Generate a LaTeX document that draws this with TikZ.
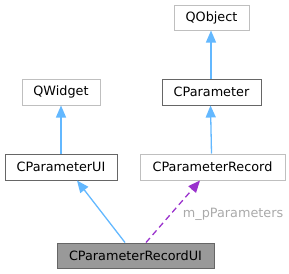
\documentclass[tikz,border=0pt]{standalone}
\usepackage{fontspec}
\setmainfont{DejaVu Sans}
\definecolor{inheritblue}{RGB}{99, 184, 255}
\definecolor{usagepurple}{RGB}{154, 50, 205}
\definecolor{extgray}{RGB}{191, 191, 191}
\definecolor{docgray}{RGB}{102, 102, 102}
\definecolor{mainfill}{RGB}{153, 153, 153}
\definecolor{labelgray}{RGB}{170, 170, 170}
\usetikzlibrary{
    arrows.meta,
    positioning,
    calc
}
\tikzset{
    classbox/.style={draw=docgray, line width=1pt, inner sep=0pt, minimum height=26pt,
        font=\fontsize{12.8}{15}\selectfont},
    extbox/.style={classbox, draw=extgray},
    mainbox/.style={classbox, fill=mainfill, minimum height=25pt},
    inherit/.style={draw=inheritblue, line width=1.3pt,
        -{Triangle[length=12pt, width=10pt, fill=inheritblue]}},
    usage/.style={draw=usagepurple, line width=1.3pt, dash pattern=on 6pt off 4pt,
        -{Triangle[length=12pt, width=10pt, fill=usagepurple]}}
}

\begin{document}
\begin{tikzpicture}[x=1pt, y=-1pt]
            \useasboundingbox (0,0) rectangle (289,273);

            % Classes
            \node[extbox, minimum width=75pt, minimum height=25pt] (qobject) at (211.5,17.5) {QObject};
            \node[extbox, minimum width=78pt] (qwidget) at (61,92) {QWidget};
            \node[classbox, minimum width=99pt] (cparam) at (211.5,92) {CParameter};
            \node[classbox, minimum width=112pt] (cparamui) at (61,167) {CParameterUI};
            \node[extbox, minimum width=145pt] (cparamrec) at (212.5,167) {CParameterRecord};
            \node[mainbox, minimum width=157pt] (cparamrecui) at (135.5,255.5) {CParameterRecordUI};

            % Inheritance
            \draw[inherit] ([xshift=-0.5pt]cparam.north) -- ([xshift=-0.5pt]qobject.south);
            \draw[inherit] (cparamui) -- (qwidget);
            \draw[inherit] ([xshift=-1pt]cparamrec.north) -- ([xshift=-1pt]cparam.south);
            \draw[inherit] ([xshift=-10.5pt]cparamrecui.north) -- ([xshift=16pt]cparamui.south);

            % Usage
            \draw[usage] ([xshift=10.5pt]cparamrecui.north) -- ([xshift=-12.5pt]cparamrec.south)
                node[pos=0.5, right=0pt, font=\fontsize{12.8}{15}\selectfont, text=labelgray, xshift=6pt, yshift=-3pt] (ulabel) {m\_pParameters};
        \end{tikzpicture}
\end{document}
